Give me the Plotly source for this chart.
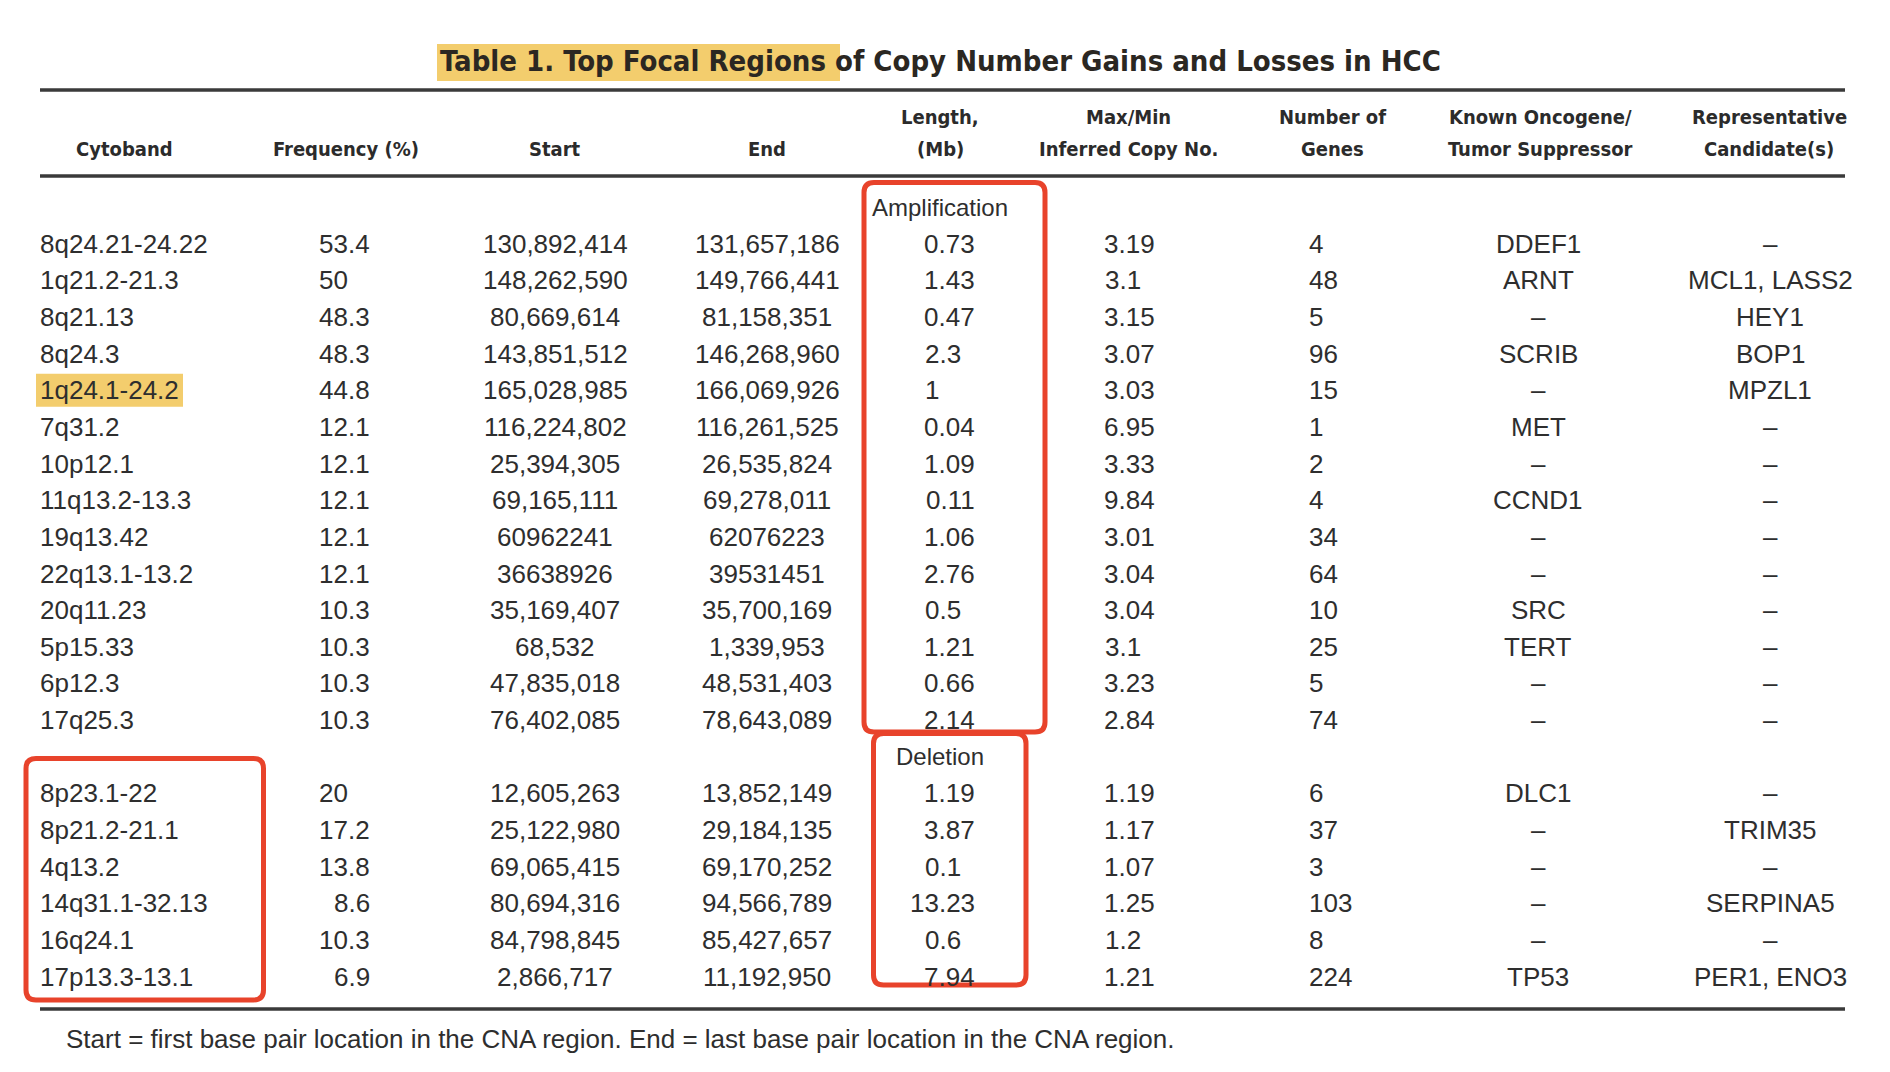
import plotly.graph_objects as go

# ---------------- data ----------------
title_hl = "Table 1. Top Focal Regions "
title_rest = "of Copy Number Gains and Losses in HCC"

headers = [
    ["", "Cytoband"],
    ["", "Frequency (%)"],
    ["", "Start"],
    ["", "End"],
    ["Length,", "(Mb)"],
    ["Max/Min", "Inferred Copy No."],
    ["Number of", "Genes"],
    ["Known Oncogene/", "Tumor Suppressor"],
    ["Representative", "Candidate(s)"],
]

cyto_amp = ["8q24.21-24.22", "1q21.2-21.3", "8q21.13", "8q24.3", "1q24.1-24.2", "7q31.2", "10p12.1",
            "11q13.2-13.3", "19q13.42", "22q13.1-13.2", "20q11.23", "5p15.33", "6p12.3", "17q25.3"]
freq_amp = ["53.4", "50", "48.3", "48.3", "44.8", "12.1", "12.1", "12.1", "12.1", "12.1", "10.3", "10.3", "10.3", "10.3"]
start_amp = ["130,892,414", "148,262,590", "80,669,614", "143,851,512", "165,028,985", "116,224,802", "25,394,305",
             "69,165,111", "60962241", "36638926", "35,169,407", "68,532", "47,835,018", "76,402,085"]
end_amp = ["131,657,186", "149,766,441", "81,158,351", "146,268,960", "166,069,926", "116,261,525", "26,535,824",
           "69,278,011", "62076223", "39531451", "35,700,169", "1,339,953", "48,531,403", "78,643,089"]
length_amp = ["0.73", "1.43", "0.47", "2.3", "1", "0.04", "1.09", "0.11", "1.06", "2.76", "0.5", "1.21", "0.66", "2.14"]
copy_amp = ["3.19", "3.1", "3.15", "3.07", "3.03", "6.95", "3.33", "9.84", "3.01", "3.04", "3.04", "3.1", "3.23", "2.84"]
genes_amp = ["4", "48", "5", "96", "15", "1", "2", "4", "34", "64", "10", "25", "5", "74"]
onco_amp = ["DDEF1", "ARNT", "–", "SCRIB", "–", "MET", "–", "CCND1", "–", "–", "SRC", "TERT", "–", "–"]
cand_amp = ["–", "MCL1, LASS2", "HEY1", "BOP1", "MPZL1", "–", "–", "–", "–", "–", "–", "–", "–", "–"]

cyto_del = ["8p23.1-22", "8p21.2-21.1", "4q13.2", "14q31.1-32.13", "16q24.1", "17p13.3-13.1"]
freq_del = ["20", "17.2", "13.8", "8.6", "10.3", "6.9"]
start_del = ["12,605,263", "25,122,980", "69,065,415", "80,694,316", "84,798,845", "2,866,717"]
end_del = ["13,852,149", "29,184,135", "69,170,252", "94,566,789", "85,427,657", "11,192,950"]
length_del = ["1.19", "3.87", "0.1", "13.23", "0.6", "7.94"]
copy_del = ["1.19", "1.17", "1.07", "1.25", "1.2", "1.21"]
genes_del = ["6", "37", "3", "103", "8", "224"]
onco_del = ["DLC1", "–", "–", "–", "–", "TP53"]
cand_del = ["–", "TRIM35", "–", "SERPINA5", "–", "PER1, ENO3"]

section_labels = ["Amplification", "Deletion"]
highlighted_band = "1q24.1-24.2"
footnote = "Start = first base pair location in the CNA region. End = last base pair location in the CNA region."

# ---------------- style / layout ----------------
W, H = 1890, 1072
TXT = "#2e2e2e"
RED = "#E8432B"
HL = "#F3CD6D"
BODY_FONT = "Liberation Sans, Arial, sans-serif"
HEAD_FONT = "Liberation Sans Narrow, DejaVu Sans Condensed, Arial Narrow, sans-serif"
FS = 26
HFS = 20

# column placements: (mode, x)
cols = [
    ("left", 40),        # cytoband
    ("dec", 348),        # frequency
    ("center", 555),     # start
    ("center", 767),     # end
    ("dec", 939),        # length
    ("dec", 1119),       # max/min
    ("left", 1309),      # genes
    ("center", 1538),    # oncogene
    ("center", 1770),    # candidate
]
head_x = [124, 346, 555, 767, 940, 1128, 1332, 1540, 1769]

ROW0 = 207.0
ROWH = 36.65

fig = go.Figure()
ann = []
shapes = []


def add_text(x, y, text, anchor="center", size=FS, family=BODY_FONT, weight="normal", color=TXT):
    ann.append(dict(x=x, y=y, xref="x", yref="y", text=text, showarrow=False,
                    xanchor=anchor, yanchor="middle", borderpad=0, borderwidth=0,
                    font=dict(family=family, size=size, color=color, weight=weight)))


def add_cell(col, y, s):
    mode, x = cols[col]
    if mode == "left":
        add_text(x, y, s, "left")
    elif mode == "center":
        add_text(x, y, s, "center")
    else:
        # decimal alignment using tabular digit width (0.556 em) and period (0.278 em)
        frac = s.split(".")[1] if "." in s else ""
        off = (0.278 + 0.556 * len(frac)) * FS if frac else 0.0
        add_text(x + off, y, s, "right")


# title
shapes.append(dict(type="rect", xref="x", yref="y", x0=437, x1=840, y0=44, y1=81,
                   fillcolor=HL, line=dict(width=0), layer="below"))
add_text(440, 61, title_hl + title_rest, "left", size=29, family=HEAD_FONT, weight="bold", color="#2b2722")

# rules
for yy in (90, 176, 1009):
    shapes.append(dict(type="line", xref="x", yref="y", x0=40, x1=1845, y0=yy, y1=yy,
                       line=dict(color="#3a3a3a", width=3.5)))

# headers
for i, (l1, l2) in enumerate(headers):
    if l1:
        add_text(head_x[i], 117, l1, "center", size=HFS, family=HEAD_FONT, weight="bold", color="#2b2b2b")
    add_text(head_x[i], 149, l2, "center", size=HFS, family=HEAD_FONT, weight="bold", color="#2b2b2b")

# body
sections = [
    (section_labels[0], [cyto_amp, freq_amp, start_amp, end_amp, length_amp, copy_amp, genes_amp, onco_amp, cand_amp]),
    (section_labels[1], [cyto_del, freq_del, start_del, end_del, length_del, copy_del, genes_del, onco_del, cand_del]),
]
r = 0
for label, columns in sections:
    y = ROW0 + r * ROWH
    add_text(940, y, label, "center", size=24)
    r += 1
    for i in range(len(columns[0])):
        y = ROW0 + r * ROWH
        if columns[0][i] == highlighted_band:
            shapes.append(dict(type="rect", xref="x", yref="y", x0=36, x1=183, y0=y - 16.5, y1=y + 16.5,
                               fillcolor=HL, line=dict(width=0), layer="below"))
        for c in range(9):
            add_cell(c, y, columns[c][i])
        r += 1

# footnote
add_text(66, 1039, footnote, "left", size=26)


# red rounded boxes
def rrect(x0, y0, x1, y1, rad=10):
    return (f"M{x0+rad},{y0} L{x1-rad},{y0} Q{x1},{y0} {x1},{y0+rad} L{x1},{y1-rad} "
            f"Q{x1},{y1} {x1-rad},{y1} L{x0+rad},{y1} Q{x0},{y1} {x0},{y1-rad} "
            f"L{x0},{y0+rad} Q{x0},{y0} {x0+rad},{y0} Z")


for (a, b, c, d) in [(864, 182.5, 1045, 732), (873.5, 733.5, 1026, 985), (26, 758.5, 263.5, 1000)]:
    shapes.append(dict(type="path", xref="x", yref="y", path=rrect(a, b, c, d),
                       line=dict(color=RED, width=5), fillcolor="rgba(0,0,0,0)", layer="above"))

fig.update_layout(
    width=W, height=H, autosize=False,
    margin=dict(l=0, r=0, t=0, b=0, pad=0),
    paper_bgcolor="white", plot_bgcolor="white",
    xaxis=dict(range=[0, W], visible=False, fixedrange=True),
    yaxis=dict(range=[H, 0], visible=False, fixedrange=True),
    annotations=ann, shapes=shapes, showlegend=False,
)

fig.write_html("out.html", config={"displayModeBar": False},
               post_script="document.body.style.margin='0';")
